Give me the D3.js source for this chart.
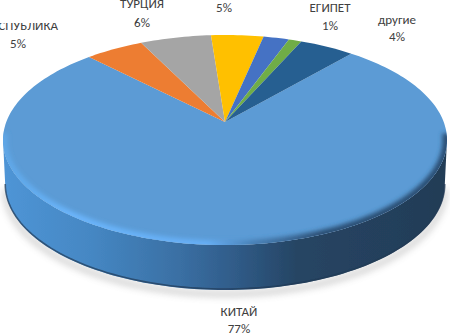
<!DOCTYPE html>
<html><head><meta charset="utf-8">
<script src="https://cdn.jsdelivr.net/npm/d3@7"></script>
<style>html,body{margin:0;padding:0;background:#fff}svg{display:block}text{font-family:Carlito,"Open Sans","Noto Sans",sans-serif}</style>
</head><body><svg id="c" width="450" height="336"></svg>
<script>
const categories=["КИТАЙ","РЕСПУБЛИКА","ТУРЦИЯ","","","ЕГИПЕТ","другие"];
const shares=[76.4,5.0,6.1,4.5,2.2,1.1,4.7];
const colors=["#5b9bd5","#ed7d31","#a5a5a5","#ffc000","#4472c4","#70ad47","#255e91"];
const labelText=["77%","5%","6%","5%","","1%","4%"];
const cx=225,cy=140,rx=222,ry=105,depth=45,d=0.171;
const svg=d3.select("#c");
const defs=svg.append("defs");
const gradient=(id,stops)=>{const g=defs.append("linearGradient").attr("id",id).attr("x1",0).attr("y1",0).attr("x2",1).attr("y2",0);
  stops.forEach(([o,c])=>g.append("stop").attr("offset",o).attr("stop-color",c));};
gradient("wall",[[0,"#4f95d6"],[0.2,"#4587c3"],[0.4,"#3a6fa3"],[0.52,"#305c89"],[0.66,"#264564"],[1,"#233c56"]]);
gradient("rimLight",[[0,"#5ea6e6"],[0.15,"#6ab4fa"],[0.46,"#66aef4"],[0.56,"#4a82b8"],[0.72,"#2c4f74"],[1,"#2c4f74"]]);
const blur=(id,s)=>defs.append("filter").attr("id",id).attr("x","-5%").attr("y","-10%").attr("width","110%").attr("height","120%").append("feGaussianBlur").attr("stdDeviation",s);
blur("blur",2.2);blur("soft",0.5);blur("shadow",3.5);

const x=d3.scaleLinear().domain([-1,1]).range([cx-rx,cx+rx]);
const y=d3.scaleLinear().domain([-1,1]).range([cy+ry,cy-ry]);
const project=t=>{const u=Math.sin(t),v=Math.cos(t),w=1+d*v;return [x(Math.sqrt(1-d*d)*u/w),y((v+d)/w)];};
const pie=d3.pie().sort(null).value(v=>v).startAngle(40.7*Math.PI/180).endAngle((40.7+360)*Math.PI/180);
const arcs=pie(shares);
const wedge=a=>{const n=Math.max(3,Math.ceil((a.endAngle-a.startAngle)*40));
  const pts=d3.range(n+1).map(i=>project(a.startAngle+(a.endAngle-a.startAngle)*i/n));
  return d3.line()([[x(0),y(d)],...pts])+"Z";};
const ell=()=>d3.range(0,201).map(i=>{const t=i/200*2*Math.PI;return [x(Math.cos(t)),y(Math.sin(t))];});
const lowerEdge=(shrink,dy)=>d3.range(0,101).map(i=>{const t=-Math.PI*i/100;return [cx+rx*shrink*Math.cos(t),y(Math.sin(t))+dy];});
const wallPts=[...lowerEdge(0.99,depth),...lowerEdge(1,0).reverse()];
svg.append("path").attr("d",d3.line()(lowerEdge(0.99,depth+4))).attr("fill","none").attr("stroke","#8c8c8c").attr("stroke-width",5).attr("opacity",.45).attr("filter","url(#shadow)");
const body=svg.append("g").attr("filter","url(#soft)");
body.append("path").attr("d",d3.line()(wallPts)+"Z").attr("fill","url(#wall)");
body.append("path").attr("d",d3.line()(lowerEdge(0.99,depth-1))).attr("fill","none").attr("stroke","#223a55").attr("stroke-width",1.6).attr("opacity",.7);
body.append("g").selectAll("path").data(arcs).join("path").attr("d",wedge).attr("fill",(a,i)=>colors[i]);
defs.append("clipPath").attr("id","faceClip").append("path").attr("d",d3.line()(ell())+"Z");
const rim=d3.range(0,101).map(i=>{const t=-Math.PI*(-0.02+1.04*i/100);return [x(Math.cos(t)),y(Math.sin(t))];});
body.append("g").attr("clip-path","url(#faceClip)").append("path").attr("d",d3.line()(rim)).attr("fill","none").attr("stroke","url(#rimLight)").attr("stroke-width",9).attr("filter","url(#blur)");

const labels=[{i:0,x:239,y:333,ny:316},{i:1,x:18,y:48},{i:2,x:142,y:27,ny:8},{i:3,x:224,y:12},{i:5,x:330,y:30,ny:12},{i:6,x:397,y:41,ny:24}];
const text=svg.append("g").attr("fill","#404040").attr("font-size",13).attr("text-anchor","middle");
text.selectAll("text.v").data(labels).join("text").attr("class","v").attr("x",l=>l.x).attr("y",l=>l.y).text(l=>labelText[l.i]);
text.selectAll("text.n").data(labels.filter(l=>l.ny)).join("text").attr("class","n").attr("x",l=>l.x).attr("y",l=>l.ny).text(l=>categories[l.i]);
defs.append("clipPath").attr("id","pub").append("rect").attr("x",0).attr("y",23).attr("width",70).attr("height",12);
text.append("text").attr("x",58).attr("y",30).attr("text-anchor","end").attr("clip-path","url(#pub)").text(categories[1]);
</script></body></html>
